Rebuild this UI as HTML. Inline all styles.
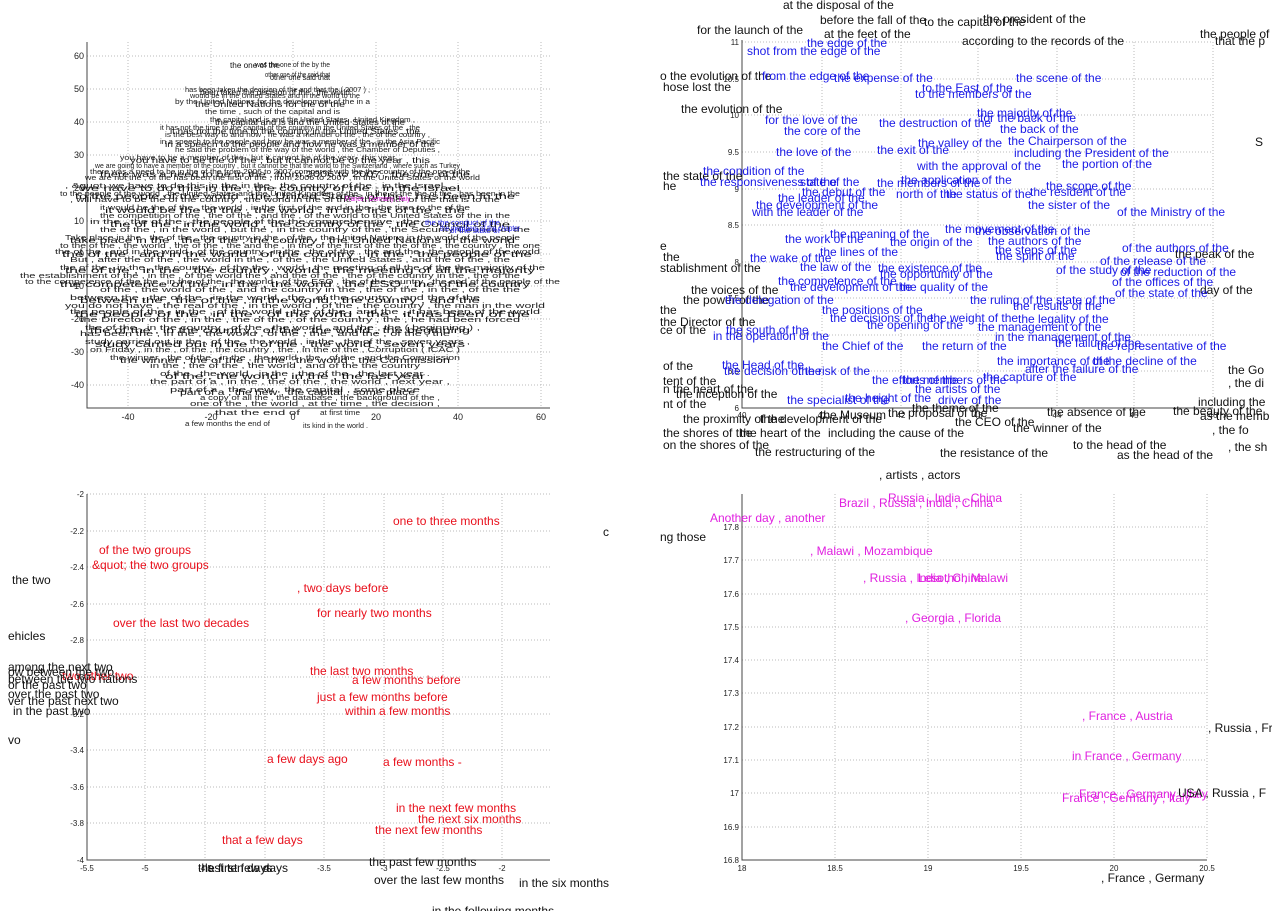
<!DOCTYPE html>
<html><head><meta charset="utf-8"><style>
html,body{margin:0;padding:0;background:#fff;width:1272px;height:911px;overflow:hidden}
svg{display:block;font-family:"Liberation Sans",sans-serif}
.g{stroke:#bbb;stroke-width:1;stroke-dasharray:1 2}
.ax{stroke:#444;stroke-width:1;fill:none}
.tk{font-size:8px;fill:#222}
.tl{font-size:9px;fill:#222}
.b{font-size:12px;fill:#1a1ae6}
.k{font-size:12px;fill:#111}
.r{font-size:12px;fill:#e8101c}
.m{font-size:12px;fill:#e020e0}
.d{font-size:7px;fill:#222}
.e{font-size:8px;fill:#111}
</style></head><body>
<svg width="1272" height="911" viewBox="0 0 1272 911">
<!-- ===== Top-left panel ===== -->
<g>
<line class="g" x1="128" y1="42" x2="128" y2="408"/><line class="g" x1="211" y1="42" x2="211" y2="408"/>
<line class="g" x1="293" y1="42" x2="293" y2="408"/><line class="g" x1="376" y1="42" x2="376" y2="408"/>
<line class="g" x1="458" y1="42" x2="458" y2="408"/><line class="g" x1="541" y1="42" x2="541" y2="408"/>
<line class="g" x1="87" y1="56" x2="550" y2="56"/><line class="g" x1="87" y1="89" x2="550" y2="89"/>
<line class="g" x1="87" y1="122" x2="550" y2="122"/><line class="g" x1="87" y1="155" x2="550" y2="155"/>
<line class="g" x1="87" y1="188" x2="550" y2="188"/><line class="g" x1="87" y1="221" x2="550" y2="221"/>
<line class="g" x1="87" y1="254" x2="550" y2="254"/><line class="g" x1="87" y1="286" x2="550" y2="286"/>
<line class="g" x1="87" y1="319" x2="550" y2="319"/><line class="g" x1="87" y1="352" x2="550" y2="352"/>
<line class="g" x1="87" y1="385" x2="550" y2="385"/>
<polyline class="ax" points="87,42 87,408 550,408"/>
<g class="tl" text-anchor="end">
<text x="84" y="59">60</text><text x="84" y="92">50</text><text x="84" y="125">40</text><text x="84" y="158">30</text>
<text x="84" y="191">20</text><text x="84" y="224">10</text><text x="84" y="257">0</text><text x="84" y="289">-10</text>
<text x="84" y="322">-20</text><text x="84" y="355">-30</text><text x="84" y="388">-40</text></g>
<g class="tl" text-anchor="middle">
<text x="128" y="420">-40</text><text x="211" y="420">-20</text><text x="293" y="420">0</text>
<text x="376" y="420">20</text><text x="458" y="420">40</text><text x="541" y="420">60</text></g>
<g class="d">
<text x="255" y="67" textLength="75" lengthAdjust="spacingAndGlyphs">was the one of the by the</text>
<text x="265" y="77" textLength="65" lengthAdjust="spacingAndGlyphs">other one of the said that</text>
<text x="185" y="92" textLength="185" lengthAdjust="spacingAndGlyphs">has been taken the decision of the and that the ( 2007 ) ,</text>
<text x="190" y="98" textLength="170" lengthAdjust="spacingAndGlyphs">would be in the United States and in the world to the</text>
<text x="175" y="104" textLength="195" lengthAdjust="spacingAndGlyphs">by the United Nations for the development of the in a</text>
<text x="205" y="114" textLength="135" lengthAdjust="spacingAndGlyphs">the time , such of the capital and is</text>
<text x="210" y="122" textLength="205" lengthAdjust="spacingAndGlyphs">the capital and is and the United States , United Kingdom ,</text>
<text x="160" y="130" textLength="260" lengthAdjust="spacingAndGlyphs">it has not the time to the capital of the country in the United States of the , the</text>
<text x="165" y="137" textLength="265" lengthAdjust="spacingAndGlyphs">is the best way to and how , he was a member of the , the of the country ,</text>
<text x="160" y="144" textLength="280" lengthAdjust="spacingAndGlyphs">in a speech to the people and how he was a member of the , in the Asia Pacific</text>
<text x="175" y="152" textLength="265" lengthAdjust="spacingAndGlyphs">he said the problem of the way of the world , the Chamber of Deputies ,</text>
<text x="120" y="160" textLength="280" lengthAdjust="spacingAndGlyphs">you have to be a member of the , but it cannot be of the year , this year ,</text>
<text x="95" y="168" textLength="365" lengthAdjust="spacingAndGlyphs">we are going to have a member of the country , but it cannot be that the world to the Switzerland , where such as Turkey</text>
<text x="90" y="174" textLength="380" lengthAdjust="spacingAndGlyphs">there was a need to be in the of the from 2006 to 2007 compared with the the country of the one of the</text>
<text x="85" y="180" textLength="395" lengthAdjust="spacingAndGlyphs">we are not the , of the has been the first of the , from 2006 to 2007 , in the United States of the world</text>
<text x="65" y="188" textLength="385" lengthAdjust="spacingAndGlyphs">, &amp;quot; we have to do this in the in the , the country of the , in the Israel ,</text>
<text x="60" y="196" textLength="460" lengthAdjust="spacingAndGlyphs">to the people of the world , the United States and the United Kingdom of the , in the of the the of the , has been in the</text>
<text x="70" y="202" textLength="430" lengthAdjust="spacingAndGlyphs">, will have to be the of the country , the world in the of the , the other of the that is to the</text>
<text x="100" y="210" textLength="370" lengthAdjust="spacingAndGlyphs">it would be the of the , the world , in the first of the and in the , the time to the of the</text>
<text x="100" y="218" textLength="410" lengthAdjust="spacingAndGlyphs">the competition of the , the of the , and the , of the world to the United States of the in the</text>
<text x="90" y="224" textLength="330" lengthAdjust="spacingAndGlyphs">in the , the of the , the people of the the comprehensive , the</text>
<text x="100" y="232" textLength="430" lengthAdjust="spacingAndGlyphs">the of the , in the world , but the , in the country of the , the Security Council of the</text>
<text x="65" y="240" textLength="455" lengthAdjust="spacingAndGlyphs">Take place in the , the of the , the country in the , of the , the United Nations in the world of the people</text>
<text x="60" y="248" textLength="480" lengthAdjust="spacingAndGlyphs">to the of the , the world , the of the , the and the , in the of the first of the the of the , the country , the one</text>
<text x="55" y="254" textLength="485" lengthAdjust="spacingAndGlyphs">the of the , and in the world , of the country , in the , the of the , the and the , the people of the world</text>
<text x="70" y="262" textLength="440" lengthAdjust="spacingAndGlyphs">But , after the of the , the world in the , of the , the United States , and the of the , the</text>
<text x="60" y="270" textLength="485" lengthAdjust="spacingAndGlyphs">the of the , in the , the country , of the the , world , the meeting of all the of the the majority of the</text>
<text x="20" y="278" textLength="500" lengthAdjust="spacingAndGlyphs">the establishment of the , in the , of the world the , and the of the , the of the country in the , the of the</text>
<text x="25" y="284" textLength="535" lengthAdjust="spacingAndGlyphs">to the competence of the the , in the of the , the world , of the ESO , the of the country , the and of the people of the</text>
<text x="100" y="292" textLength="420" lengthAdjust="spacingAndGlyphs">of the , the world of the , and the country in the , the of the , in the , of the the</text>
<text x="70" y="300" textLength="410" lengthAdjust="spacingAndGlyphs">between the , the of the , in the world , the , of the country , and the of the</text>
<text x="65" y="308" textLength="480" lengthAdjust="spacingAndGlyphs">you do not have , the real of the , in the world , of the , the country , the man in the world</text>
<text x="70" y="314" textLength="470" lengthAdjust="spacingAndGlyphs">the people of the , in the , of the world , the of the , and the , it has been of the world</text>
<text x="80" y="322" textLength="440" lengthAdjust="spacingAndGlyphs">the Director of the , in the , the of the , of the country , the , he had been forced</text>
<text x="85" y="330" textLength="395" lengthAdjust="spacingAndGlyphs">the of the , in the country , of the , the world , and the , the ( beginning ) ,</text>
<text x="80" y="336" textLength="370" lengthAdjust="spacingAndGlyphs">has been the , in the , the world , of the , the , and the , of the , the</text>
<text x="85" y="344" textLength="385" lengthAdjust="spacingAndGlyphs">study carried out in the , of the , the world , in the , the of the , seven years ,</text>
<text x="90" y="352" textLength="370" lengthAdjust="spacingAndGlyphs">on Friday , in the , of the , the country , the , in the of the , Corruption ( ICAC )</text>
<text x="110" y="360" textLength="350" lengthAdjust="spacingAndGlyphs">the winner , the of the , in the , the world , the , of the , and the Commission</text>
<text x="150" y="368" textLength="270" lengthAdjust="spacingAndGlyphs">in the , the of the , the world , and of the the country</text>
<text x="160" y="376" textLength="270" lengthAdjust="spacingAndGlyphs">of the , the world , in the , the of the , the last year .</text>
<text x="150" y="384" textLength="300" lengthAdjust="spacingAndGlyphs">the part of a , in the , the of the , the world , next year ,</text>
<text x="170" y="392" textLength="250" lengthAdjust="spacingAndGlyphs">part of a , the new , the capital , some place</text>
<text x="200" y="400" textLength="240" lengthAdjust="spacingAndGlyphs">a copy of all the , the database , the background of the ,</text>
<text x="190" y="406" textLength="250" lengthAdjust="spacingAndGlyphs">one of the , the world , at the time , the decision ,</text>
<text x="215" y="415" textLength="85" lengthAdjust="spacingAndGlyphs">that the end of</text>
<text x="320" y="415" textLength="40" lengthAdjust="spacingAndGlyphs">at first time</text>
<text x="185" y="426" textLength="85" lengthAdjust="spacingAndGlyphs">a few months the end of</text>
<text x="303" y="428" textLength="65" lengthAdjust="spacingAndGlyphs">its kind in the world .</text>
</g>
<g class="e">
<text x="230" y="68" textLength="50" lengthAdjust="spacingAndGlyphs">the one of the</text>
<text x="270" y="80" textLength="60" lengthAdjust="spacingAndGlyphs">other one said that</text>
<text x="200" y="95" textLength="150" lengthAdjust="spacingAndGlyphs">been taken the decision of the , the world</text>
<text x="195" y="107" textLength="150" lengthAdjust="spacingAndGlyphs">the United Nations for the of the</text>
<text x="215" y="125" textLength="190" lengthAdjust="spacingAndGlyphs">the capital and is and the United States of the</text>
<text x="170" y="134" textLength="250" lengthAdjust="spacingAndGlyphs">it has not the time to the country in the United States , the</text>
<text x="165" y="147" textLength="270" lengthAdjust="spacingAndGlyphs">in a speech to the people and how he was a member of the</text>
<text x="130" y="163" textLength="300" lengthAdjust="spacingAndGlyphs">you have to be the of the , but it cannot be of the year , this</text>
<text x="100" y="177" textLength="370" lengthAdjust="spacingAndGlyphs">there was a need to be in the , from 2006 to 2007 , the one of the</text>
<text x="80" y="191" textLength="380" lengthAdjust="spacingAndGlyphs">we have to do this in the , the country of the , in the Israel</text>
<text x="75" y="199" textLength="440" lengthAdjust="spacingAndGlyphs">to the people of the world , the United States of the , has been in the</text>
<text x="105" y="213" textLength="360" lengthAdjust="spacingAndGlyphs">it would be the of the , the world , in the first of the , the</text>
<text x="110" y="227" textLength="400" lengthAdjust="spacingAndGlyphs">the of the , in the world , the country of the , the Council of the</text>
<text x="70" y="243" textLength="445" lengthAdjust="spacingAndGlyphs">take place in the , the of the , the country , the United Nations in the world</text>
<text x="62" y="257" textLength="470" lengthAdjust="spacingAndGlyphs">the of the , and in the world , of the country , in the , the people of the</text>
<text x="65" y="273" textLength="470" lengthAdjust="spacingAndGlyphs">the of the , in the , the country , world , the meeting of all the majority</text>
<text x="60" y="287" textLength="470" lengthAdjust="spacingAndGlyphs">the competence of the , in the , the world , the ESO , the of the country</text>
<text x="80" y="303" textLength="400" lengthAdjust="spacingAndGlyphs">between the , the of the , in the world , the country , and the</text>
<text x="75" y="317" textLength="455" lengthAdjust="spacingAndGlyphs">the people of the , in the , of the world , the , it has been of the</text>
<text x="90" y="333" textLength="380" lengthAdjust="spacingAndGlyphs">the of the , in the country , of the , the world , the beginning</text>
<text x="95" y="347" textLength="370" lengthAdjust="spacingAndGlyphs">study carried out in the , of the , the world , seven years</text>
<text x="120" y="363" textLength="330" lengthAdjust="spacingAndGlyphs">the winner , the of the , in the , the world , the Commission</text>
<text x="165" y="379" textLength="260" lengthAdjust="spacingAndGlyphs">of the , the world , in the , the last year</text>
<text x="180" y="395" textLength="235" lengthAdjust="spacingAndGlyphs">part of a , the new , the capital , some place</text>
</g>
<text x="345" y="201" style="font-size:7px;fill:#e020e0" textLength="65" lengthAdjust="spacingAndGlyphs">France , Germany , Italy</text>
<text x="425" y="225" style="font-size:7px;fill:#1a1ae6" textLength="75" lengthAdjust="spacingAndGlyphs">the the conduct of the</text>
<text x="440" y="231" style="font-size:8px;fill:#1a1ae6" textLength="80" lengthAdjust="spacingAndGlyphs">the members of the chapter</text>
<text x="450" y="233" style="font-size:7px;fill:#1a1ae6" textLength="50" lengthAdjust="spacingAndGlyphs">of the state of</text>
</g>

<!-- ===== Top-right panel ===== -->
<g>
<line class="g" x1="822" y1="42" x2="822" y2="408"/><line class="g" x1="901" y1="42" x2="901" y2="408"/>
<line class="g" x1="978" y1="42" x2="978" y2="408"/><line class="g" x1="1057" y1="42" x2="1057" y2="408"/>
<line class="g" x1="1134" y1="42" x2="1134" y2="408"/><line class="g" x1="1213" y1="42" x2="1213" y2="408"/>
<line class="g" x1="742" y1="42" x2="1213" y2="42"/><line class="g" x1="742" y1="79" x2="1213" y2="79"/>
<line class="g" x1="742" y1="115" x2="1213" y2="115"/><line class="g" x1="742" y1="152" x2="1213" y2="152"/>
<line class="g" x1="742" y1="189" x2="1213" y2="189"/><line class="g" x1="742" y1="225" x2="1213" y2="225"/>
<line class="g" x1="742" y1="262" x2="1213" y2="262"/><line class="g" x1="742" y1="298" x2="1213" y2="298"/>
<line class="g" x1="742" y1="335" x2="1213" y2="335"/><line class="g" x1="742" y1="371" x2="1213" y2="371"/>
<polyline class="ax" points="742,40 742,408 1213,408"/>
<g class="tk" text-anchor="end">
<text x="739" y="45">11</text><text x="739" y="82">10.5</text><text x="739" y="118">10</text><text x="739" y="155">9.5</text>
<text x="739" y="192">9</text><text x="739" y="228">8.5</text><text x="739" y="265">8</text><text x="739" y="301">7.5</text>
<text x="739" y="338">7</text><text x="739" y="374">6.5</text><text x="739" y="411">6</text></g>
<g class="tk" text-anchor="middle">
<text x="742" y="418">40</text><text x="822" y="418">41</text><text x="901" y="418">42</text><text x="978" y="418">43</text>
<text x="1057" y="418">44</text><text x="1134" y="418">45</text><text x="1213" y="418">46</text></g>
<g class="k">
<text x="783" y="9">at the disposal of the</text>
<text x="820" y="24">before the fall of the</text>
<text x="924" y="26">to the capital of the</text>
<text x="983" y="23">the president of the</text>
<text x="697" y="34">for the launch of the</text>
<text x="824" y="38">at the feet of the</text>
<text x="962" y="45">according to the records of the</text>
<text x="1200" y="38">the people of</text>
<text x="1215" y="45">that the p</text>
<text x="660" y="80">o the evolution of the</text>
<text x="663" y="91">hose lost the</text>
<text x="681" y="113">the evolution of the</text>
<text x="1255" y="146">S</text>
<text x="663" y="180">the state of the</text>
<text x="663" y="190">he</text>
<text x="660" y="250">e</text>
<text x="663" y="261">the</text>
<text x="660" y="272">stablishment of the</text>
<text x="691" y="294">the voices of the</text>
<text x="683" y="304">the power of the</text>
<text x="660" y="314">the</text>
<text x="660" y="326">the Director of the</text>
<text x="660" y="334">ce of the</text>
<text x="663" y="370">of the</text>
<text x="663" y="385">tent of the</text>
<text x="663" y="393">n the heart of the</text>
<text x="676" y="398">the inception of the</text>
<text x="663" y="408">nt of the</text>
<text x="1175" y="258">the peak of the</text>
<text x="1200" y="294">day of the</text>
<text x="1228" y="374">the Go</text>
<text x="1228" y="387">, the di</text>
<text x="1198" y="406">including the</text>
<text x="1173" y="415">the beauty of the</text>
<text x="1200" y="420">as the memb</text>
<text x="912" y="412">the theme of the</text>
<text x="888" y="417">the proposal of the</text>
<text x="1047" y="416">the absence of the</text>
<text x="955" y="426">the CEO of the</text>
<text x="1013" y="432">the winner of the</text>
<text x="683" y="423">the proximity of the</text>
<text x="760" y="423">the development of the</text>
<text x="820" y="419">the Museum</text>
<text x="740" y="437">the heart of the</text>
<text x="663" y="437">the shores of the</text>
<text x="828" y="437">including the cause of the</text>
<text x="1212" y="434">, the fo</text>
<text x="663" y="449">on the shores of the</text>
<text x="755" y="456">the restructuring of the</text>
<text x="940" y="457">the resistance of the</text>
<text x="1073" y="449">to the head of the</text>
<text x="1117" y="459">as the head of the</text>
<text x="1228" y="451">, the sh</text>
<text x="879" y="479">, artists , actors</text>
</g>
<g class="b">
<text x="807" y="47">the edge of the</text>
<text x="747" y="55">shot from the edge of the</text>
<text x="762" y="80">from the edge of the</text>
<text x="834" y="82">the expense of the</text>
<text x="1016" y="82">the scene of the</text>
<text x="922" y="92">to the East of the</text>
<text x="915" y="98">to the members of the</text>
<text x="977" y="117">the majority of the</text>
<text x="980" y="122">for the back of the</text>
<text x="765" y="124">for the love of the</text>
<text x="879" y="127">the destruction of the</text>
<text x="1000" y="133">the back of the</text>
<text x="784" y="135">the core of the</text>
<text x="918" y="147">the valley of the</text>
<text x="1008" y="145">the Chairperson of the</text>
<text x="776" y="156">the love of the</text>
<text x="877" y="154">the exit of the</text>
<text x="1014" y="157">including the President of the</text>
<text x="917" y="170">with the approval of the</text>
<text x="1062" y="168">the portion of the</text>
<text x="703" y="175">the condition of the</text>
<text x="700" y="186">the responsiveness of the</text>
<text x="800" y="186">state of the</text>
<text x="901" y="184">the application of the</text>
<text x="877" y="187">the members of the</text>
<text x="1046" y="190">the scope of the</text>
<text x="802" y="196">the debut of the</text>
<text x="896" y="198">north of the</text>
<text x="946" y="198">the status of the</text>
<text x="1030" y="196">the resident of the</text>
<text x="778" y="202">the leader of the</text>
<text x="756" y="209">the development of the</text>
<text x="1028" y="209">the sister of the</text>
<text x="752" y="216">with the leader of the</text>
<text x="1117" y="216">of the Ministry of the</text>
<text x="945" y="233">the movement of the</text>
<text x="975" y="235">the observation of the</text>
<text x="830" y="238">the meaning of the</text>
<text x="785" y="243">the work of the</text>
<text x="890" y="246">the origin of the</text>
<text x="988" y="245">the authors of the</text>
<text x="1122" y="252">of the authors of the</text>
<text x="820" y="256">the lines of the</text>
<text x="995" y="254">the steps of the</text>
<text x="996" y="260">the spirit of the</text>
<text x="1100" y="265">of the release of the</text>
<text x="750" y="262">the wake of the</text>
<text x="800" y="271">the law of the</text>
<text x="878" y="272">the existence of the</text>
<text x="880" y="278">the opportunity of the</text>
<text x="1056" y="274">of the study of the</text>
<text x="1120" y="276">of the reduction of the</text>
<text x="1112" y="286">of the offices of the</text>
<text x="1115" y="297">of the state of the</text>
<text x="778" y="285">the competence of the</text>
<text x="790" y="291">the development of the</text>
<text x="900" y="291">the quality of the</text>
<text x="725" y="304">the delegation of the</text>
<text x="970" y="304">the ruling of the state of the</text>
<text x="1013" y="310">the results of the</text>
<text x="822" y="314">the positions of the</text>
<text x="930" y="322">the weight of the</text>
<text x="1018" y="323">the legality of the</text>
<text x="830" y="322">the decisions of the</text>
<text x="867" y="329">the opening of the</text>
<text x="978" y="331">the management of the</text>
<text x="726" y="334">the south of the</text>
<text x="713" y="340">in the operation of the</text>
<text x="995" y="341">in the management of the</text>
<text x="1055" y="347">the failure of the</text>
<text x="822" y="350">the Chief of the</text>
<text x="922" y="350">the return of the</text>
<text x="1097" y="350">the representative of the</text>
<text x="997" y="365">the importance of the</text>
<text x="1092" y="365">of the decline of the</text>
<text x="722" y="369">the Head of the</text>
<text x="724" y="375">the decision of the</text>
<text x="798" y="375">the risk of the</text>
<text x="1025" y="373">after the failure of the</text>
<text x="872" y="384">the efforts of the</text>
<text x="903" y="384">the members of the</text>
<text x="983" y="381">the capture of the</text>
<text x="915" y="393">the artists of the</text>
<text x="787" y="404">the specialist of the</text>
<text x="845" y="402">the height of the</text>
<text x="938" y="404">driver of the</text>
</g>
</g>

<!-- ===== Bottom-left panel ===== -->
<g>
<line class="g" x1="145" y1="494" x2="145" y2="860"/><line class="g" x1="205" y1="494" x2="205" y2="860"/>
<line class="g" x1="265" y1="494" x2="265" y2="860"/><line class="g" x1="324" y1="494" x2="324" y2="860"/>
<line class="g" x1="384" y1="494" x2="384" y2="860"/><line class="g" x1="443" y1="494" x2="443" y2="860"/>
<line class="g" x1="502" y1="494" x2="502" y2="860"/>
<line class="g" x1="87" y1="494" x2="550" y2="494"/><line class="g" x1="87" y1="531" x2="550" y2="531"/>
<line class="g" x1="87" y1="567" x2="550" y2="567"/><line class="g" x1="87" y1="604" x2="550" y2="604"/>
<line class="g" x1="87" y1="640" x2="550" y2="640"/><line class="g" x1="87" y1="677" x2="550" y2="677"/>
<line class="g" x1="87" y1="714" x2="550" y2="714"/><line class="g" x1="87" y1="750" x2="550" y2="750"/>
<line class="g" x1="87" y1="787" x2="550" y2="787"/><line class="g" x1="87" y1="823" x2="550" y2="823"/>
<polyline class="ax" points="87,494 87,860 550,860"/>
<g class="tk" text-anchor="end">
<text x="84" y="497">-2</text><text x="84" y="534">-2.2</text><text x="84" y="570">-2.4</text><text x="84" y="607">-2.6</text>
<text x="84" y="643">-2.8</text><text x="84" y="680">-3</text><text x="84" y="717">-3.2</text><text x="84" y="753">-3.4</text>
<text x="84" y="790">-3.6</text><text x="84" y="826">-3.8</text><text x="84" y="863">-4</text></g>
<g class="tk" text-anchor="middle">
<text x="87" y="871">-5.5</text><text x="145" y="871">-5</text><text x="205" y="871">-4.5</text><text x="265" y="871">-4</text>
<text x="324" y="871">-3.5</text><text x="384" y="871">-3</text><text x="443" y="871">-2.5</text><text x="502" y="871">-2</text></g>
<g class="r">
<text x="393" y="525">one to three months</text>
<text x="99" y="554">of the two groups</text>
<text x="92" y="569">&amp;quot; the two groups</text>
<text x="297" y="592">, two days before</text>
<text x="317" y="617">for nearly two months</text>
<text x="113" y="627">over the last two decades</text>
<text x="310" y="675">the last two months</text>
<text x="352" y="684">a few months before</text>
<text x="317" y="701">just a few months before</text>
<text x="345" y="715">within a few months</text>
<text x="267" y="763">a few days ago</text>
<text x="383" y="766">a few months -</text>
<text x="396" y="812">in the next few months</text>
<text x="418" y="823">the next six months</text>
<text x="375" y="834">the next few months</text>
<text x="222" y="844">that a few days</text>
<text x="62" y="680">two other two</text>
</g>
<g class="k">
<text x="12" y="584">the two</text>
<text x="8" y="640">ehicles</text>
<text x="8" y="671">among the next two</text>
<text x="8" y="676">ow between the two</text>
<text x="8" y="683">between the two nations</text>
<text x="8" y="689">or the past two</text>
<text x="8" y="698">over the past two</text>
<text x="8" y="705">ver the past next two</text>
<text x="13" y="715">in the past two</text>
<text x="8" y="744">vo</text>
<text x="198" y="872">the first few days</text>
<text x="205" y="872">last ten days</text>
<text x="369" y="866">the past few months</text>
<text x="374" y="884">over the last few months</text>
<text x="519" y="887">in the six months</text>
<text x="432" y="915">in the following months</text>
<text x="603" y="536">c</text>
</g>
</g>

<!-- ===== Bottom-right panel ===== -->
<g>
<line class="g" x1="835" y1="494" x2="835" y2="860"/><line class="g" x1="928" y1="494" x2="928" y2="860"/>
<line class="g" x1="1021" y1="494" x2="1021" y2="860"/><line class="g" x1="1114" y1="494" x2="1114" y2="860"/>
<line class="g" x1="1207" y1="494" x2="1207" y2="860"/>
<line class="g" x1="742" y1="527" x2="1207" y2="527"/><line class="g" x1="742" y1="560" x2="1207" y2="560"/>
<line class="g" x1="742" y1="594" x2="1207" y2="594"/><line class="g" x1="742" y1="627" x2="1207" y2="627"/>
<line class="g" x1="742" y1="660" x2="1207" y2="660"/><line class="g" x1="742" y1="693" x2="1207" y2="693"/>
<line class="g" x1="742" y1="727" x2="1207" y2="727"/><line class="g" x1="742" y1="760" x2="1207" y2="760"/>
<line class="g" x1="742" y1="793" x2="1207" y2="793"/><line class="g" x1="742" y1="827" x2="1207" y2="827"/>
<polyline class="ax" points="742,494 742,860 1207,860"/>
<g class="tk" text-anchor="end">
<text x="739" y="530">17.8</text><text x="739" y="563">17.7</text><text x="739" y="597">17.6</text><text x="739" y="630">17.5</text>
<text x="739" y="663">17.4</text><text x="739" y="696">17.3</text><text x="739" y="730">17.2</text><text x="739" y="763">17.1</text>
<text x="739" y="796">17</text><text x="739" y="830">16.9</text><text x="739" y="863">16.8</text></g>
<g class="tk" text-anchor="middle">
<text x="742" y="871">18</text><text x="835" y="871">18.5</text><text x="928" y="871">19</text>
<text x="1021" y="871">19.5</text><text x="1114" y="871">20</text><text x="1207" y="871">20.5</text></g>
<g class="m">
<text x="888" y="502">Russia , India , China</text>
<text x="839" y="507">Brazil , Russia , India , China</text>
<text x="710" y="522">Another day , another</text>
<text x="810" y="555">, Malawi , Mozambique</text>
<text x="863" y="582">, Russia , India , China</text>
<text x="918" y="582">Lesotho , Malawi</text>
<text x="905" y="622">, Georgia , Florida</text>
<text x="1082" y="720">, France , Austria</text>
<text x="1072" y="760">in France , Germany</text>
<text x="1079" y="798">France , Germany , Italy</text>
<text x="1062" y="802">France , Germany , Italy</text>
</g>
<g class="k">
<text x="660" y="541">ng those</text>
<text x="1178" y="797">USA , Russia , F</text>
<text x="1208" y="732">, Russia , Fr</text>
<text x="1101" y="882">, France , Germany</text>
</g>
</g>
</svg>
</body></html>
